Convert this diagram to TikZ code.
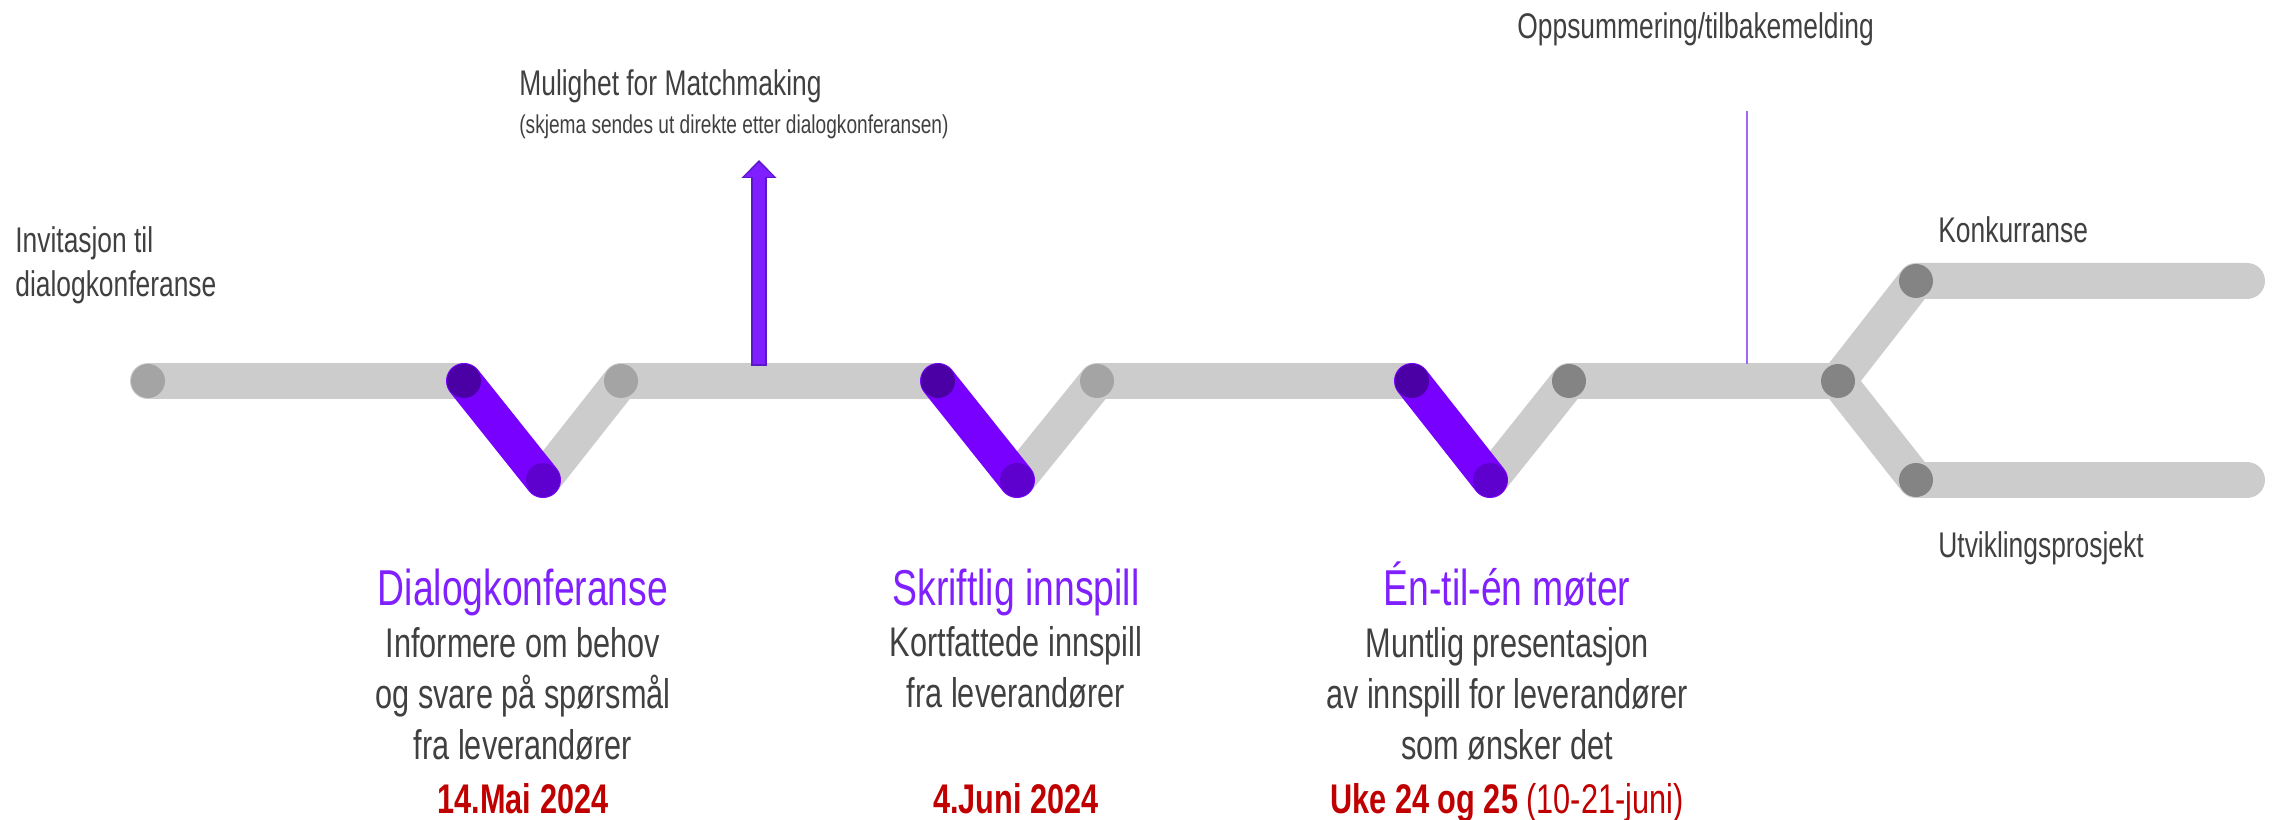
\documentclass[tikz,border=0pt]{standalone}
\usepackage{fontspec}
\setmainfont{Liberation Sans}[FakeStretch=0.74]
\usepackage{xcolor}
\usetikzlibrary{arrows.meta,positioning}
\definecolor{trackgray}{HTML}{CCCCCC}
\definecolor{dotlight}{HTML}{A4A4A4}
\definecolor{dotdark}{HTML}{848484}
\definecolor{barpurple}{HTML}{7700FF}
\definecolor{dottop}{HTML}{4B00A6}
\definecolor{dotlow}{HTML}{5E00CE}
\definecolor{arrowfill}{HTML}{7F1FFF}
\definecolor{arrowedge}{HTML}{5A18C9}
\definecolor{linepurple}{HTML}{A066F5}
\definecolor{titlepurple}{HTML}{8020FF}
\definecolor{textgray}{HTML}{404040}
\definecolor{datered}{HTML}{C00000}
\tikzset{
    track/.style = {draw=trackgray, line width=0.72cm, line cap=round, line join=round},
    phase-bar/.style = {draw=barpurple, line width=0.72cm, line cap=round},
    mm-edge/.style = {draw=arrowedge, line width=0.32cm, -{Triangle[width=0.68cm, length=0.36cm]}},
    mm-fill/.style = {draw=arrowfill, line width=0.24cm, shorten >=0.05cm, shorten <=0.04cm, -{Triangle[width=0.58cm, length=0.29cm]}},
    feedback-line/.style = {draw=linepurple, line width=0.04cm},
    note/.style = {text=textgray, inner sep=0pt, align=left, font=\fontsize{20.3}{25.6}\selectfont},
    note-small/.style = {text=textgray, inner sep=0pt, font=\fontsize{14.7}{18}\selectfont},
    phase-title/.style = {anchor=base, text=titlepurple, inner sep=0pt, font=\fontsize{28.7}{34}\selectfont},
    phase-text/.style = {anchor=base, text=textgray, inner sep=0pt, align=center, font=\fontsize{23.6}{29}\selectfont},
    phase-date/.style = {anchor=base, text=datered, inner sep=0pt, font=\fontsize{23.6}{29}\selectfont},
}

\begin{document}
\begin{tikzpicture}[x=0.02cm, y=-0.02cm]
\useasboundingbox (0,0) rectangle (2279,820);

% track points
\coordinate (start) at (148,381);
\coordinate (v1-top) at (464,381);
\coordinate (v1-low) at (543,480);
\coordinate (v1-up) at (621,381);
\coordinate (v2-top) at (938,381);
\coordinate (v2-low) at (1017,480);
\coordinate (v2-up) at (1097,381);
\coordinate (v3-top) at (1412,381);
\coordinate (v3-low) at (1490,480);
\coordinate (v3-up) at (1569,381);
\coordinate (fork) at (1838,381);
\coordinate (fork-hi) at (1916,281);
\coordinate (fork-lo) at (1916,480);
\coordinate (end-hi) at (2247,281);
\coordinate (end-lo) at (2247,480);

% grey track
\draw[track] (start) -- (v1-top);
\draw[track] (v1-low) -- (v1-up) -- (v2-top);
\draw[track] (v2-low) -- (v2-up) -- (v3-top);
\draw[track] (v3-low) -- (v3-up) -- (fork) -- (fork-hi) -- (end-hi);
\draw[track] (fork) -- (fork-lo) -- (end-lo);
\foreach \p in {start, v1-up, v2-up}
    \fill[dotlight] (\p) circle (17);
\foreach \p in {v3-up, fork, fork-hi, fork-lo}
    \fill[dotdark] (\p) circle (17);

% purple phases
\foreach \i in {1,2,3} {
    \draw[phase-bar] (v\i-top) -- (v\i-low);
    \fill[dottop] (v\i-top) circle (17);
    \fill[dotlow] (v\i-low) circle (17);
}

% matchmaking
\coordinate (mm-foot) at (759,366);
\coordinate (mm-tip) at (759,160);
\draw[mm-edge] (mm-foot) -- (mm-tip);
\draw[mm-fill] (mm-foot) -- (mm-tip);
\node[note, anchor=base west] (matchmaking) at (519,96) {Mulighet for Matchmaking};
\node[note-small, anchor=base west] (matchmaking-sub) at (519,134) {(skjema sendes ut direkte etter dialogkonferansen)};

% side notes (multi-line: base = last line)
\node[note, anchor=base west] (invite) at (15,297) {Invitasjon til\\dialogkonferanse};
\node[note, anchor=base west] (feedback) at (1517,39) {Oppsummering/tilbakemelding};
\coordinate (feedback-top) at (1747,111);
\coordinate (feedback-foot) at (1747,364);
\draw[feedback-line] (feedback-top) -- (feedback-foot);
\node[note, anchor=base west] (competition) at (1938,243) {Konkurranse};
\node[note, anchor=base west] (development) at (1938,558) {Utviklingsprosjekt};

% phase texts
\node[phase-title] (dk-title) at (523,605) {Dialogkonferanse};
\node[phase-text] (dk-text) at (523,759) {Informere om behov\\og svare på spørsmål\\fra leverandører};
\node[phase-date] (dk-date) at (523,813) {\bfseries 14.Mai 2024};

\node[phase-title] (si-title) at (1016,605) {Skriftlig innspill};
\node[phase-text] (si-text) at (1016,707) {Kortfattede innspill\\fra leverandører};
\node[phase-date] (si-date) at (1016,813) {\bfseries 4.Juni 2024};

\node[phase-title] (en-title) at (1507,605) {Én-til-én møter};
\node[phase-text] (en-text) at (1507,759) {Muntlig presentasjon\\av innspill for leverandører\\som ønsker det};
\node[phase-date] (en-date) at (1507,813) {\textbf{Uke 24 og 25} (10-21-juni)};
\end{tikzpicture}
\end{document}
